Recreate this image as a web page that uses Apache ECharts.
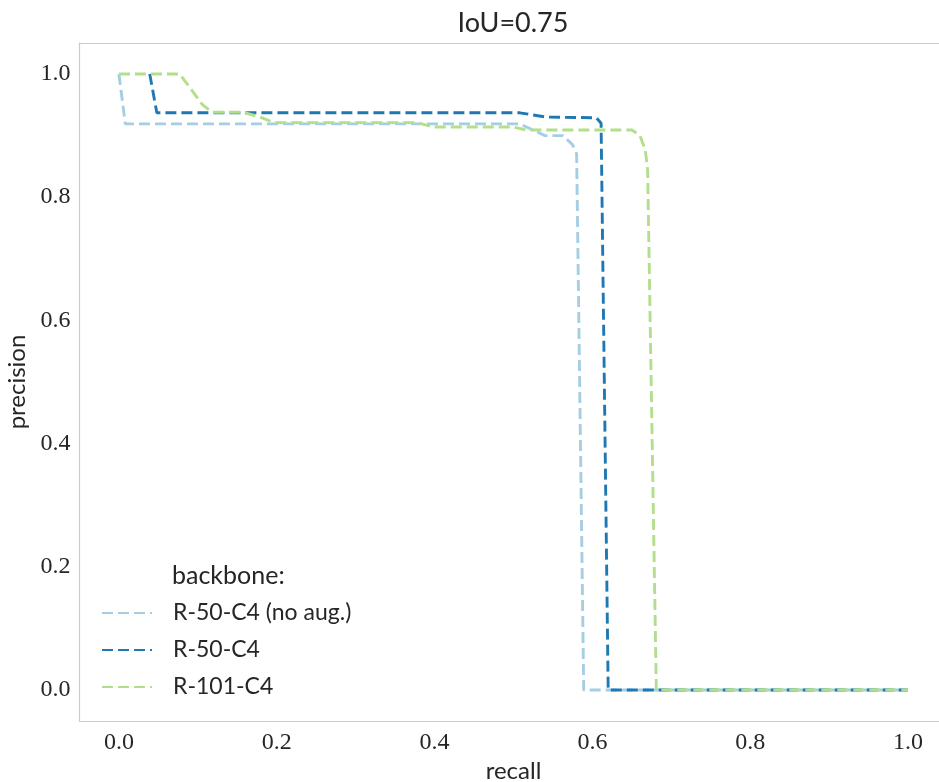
<!DOCTYPE html>
<html>
<head>
<meta charset="utf-8">
<script src="https://cdn.jsdelivr.net/npm/echarts@6/dist/echarts.min.js"></script>
<style>
html,body{margin:0;padding:0;background:#fff;overflow:hidden;}
#chart{width:939px;height:782px;}
</style>
</head>
<body>
<div id="chart"></div>
<script>
// ---- data ----
const chartTitle = 'IoU=0.75';
const xName = 'recall';
const yName = 'precision';
const legendTitle = 'backbone:';
const seriesNames = ['R-50-C4 (no aug.)', 'R-50-C4', 'R-101-C4'];
const tickValues = [0.0, 0.2, 0.4, 0.6, 0.8, 1.0];

const noAugRecall    = [0.0, 0.008, 0.2, 0.4, 0.508, 0.540, 0.563, 0.575, 0.580, 0.589, 1.0];
const noAugPrecision = [1.0, 0.919, 0.919, 0.919, 0.919, 0.900, 0.900, 0.885, 0.870, 0.0, 0.0];

const r50Recall    = [0.039, 0.048, 0.2, 0.4, 0.508, 0.542, 0.605, 0.611, 0.620, 1.0];
const r50Precision = [1.0, 0.937, 0.937, 0.937, 0.937, 0.930, 0.929, 0.920, 0.0, 0.0];

const r101Recall    = [0.0, 0.077, 0.106, 0.118, 0.157, 0.179, 0.191, 0.200, 0.378, 0.398, 0.499, 0.517, 0.650, 0.660, 0.667, 0.670, 0.681, 1.0];
const r101Precision = [1.0, 1.0, 0.950, 0.938, 0.938, 0.930, 0.924, 0.921, 0.921, 0.914, 0.914, 0.909, 0.909, 0.901, 0.877, 0.844, 0.0, 0.0];

const colors = ['#a6cee3', '#1f78b4', '#b2df8a'];

function pairs(xs, ys) { return xs.map((x, i) => [x, ys[i]]); }
const seriesData = [
  pairs(noAugRecall, noAugPrecision),
  pairs(r50Recall, r50Precision),
  pairs(r101Recall, r101Precision)
];

const textColor = '#262626';
const sansFont = 'Lato';
const serifFont = 'Liberation Serif';
const frameLine = {show: true, onZero: false, lineStyle: {color: '#cccccc', width: 1.2}};

const chart = echarts.init(document.getElementById('chart'), null, {renderer: 'canvas'});
chart.setOption({
  animation: false,
  backgroundColor: '#ffffff',
  title: {
    text: chartTitle,
    left: 513,
    top: 10,
    textAlign: 'center',
    padding: 0,
    textStyle: {fontFamily: sansFont, fontSize: 27, fontWeight: 'normal', color: textColor}
  },
  graphic: [{
    type: 'text',
    left: 172,
    top: 563,
    style: {text: legendTitle, fontFamily: sansFont, fontSize: 25, fill: textColor}
  }],
  legend: {
    orient: 'vertical',
    left: 101,
    top: 600,
    itemWidth: 50,
    itemHeight: 14,
    itemGap: 11,
    padding: 0,
    data: seriesNames,
    itemStyle: {opacity: 0},
    textStyle: {fontFamily: sansFont, fontSize: 23, color: textColor, lineHeight: 26, padding: [0, 0, 0, 16]}
  },
  grid: {
    left: 79.5,
    right: -8.5,
    top: 43.2,
    bottom: 61.2,
    outerBoundsMode: 'none',
    containLabel: false,
    show: false
  },
  xAxis: [{
    type: 'value',
    position: 'bottom',
    min: -0.05,
    max: 1.05,
    name: xName,
    nameLocation: 'middle',
    nameGap: 36,
    nameTextStyle: {fontFamily: sansFont, fontSize: 24, color: textColor},
    axisLine: frameLine,
    axisTick: {show: false},
    splitLine: {show: false},
    axisLabel: {
      customValues: tickValues,
      formatter: v => v.toFixed(1),
      margin: 10,
      fontFamily: serifFont, fontSize: 24, color: textColor
    }
  }, {
    type: 'value',
    position: 'top',
    min: -0.05,
    max: 1.05,
    axisLine: frameLine,
    axisTick: {show: false},
    splitLine: {show: false},
    axisLabel: {show: false}
  }],
  yAxis: {
    type: 'value',
    position: 'left',
    min: -0.05,
    max: 1.05,
    name: yName,
    nameLocation: 'middle',
    nameRotate: 90,
    nameGap: 45,
    nameTextStyle: {fontFamily: sansFont, fontSize: 24, color: textColor},
    axisLine: frameLine,
    axisTick: {show: false},
    splitLine: {show: false},
    axisLabel: {
      customValues: tickValues,
      formatter: v => v.toFixed(1),
      margin: 9,
      fontFamily: serifFont, fontSize: 24, color: textColor
    }
  },
  series: seriesNames.map((name, i) => ({
    name: name,
    type: 'line',
    data: seriesData[i],
    symbol: 'none',
    showSymbol: false,
    color: colors[i],
    lineStyle: {color: colors[i], width: 2.9, type: [11, 5], cap: 'butt'},
    z: 2 + i
  }))
});
</script>
</body>
</html>
